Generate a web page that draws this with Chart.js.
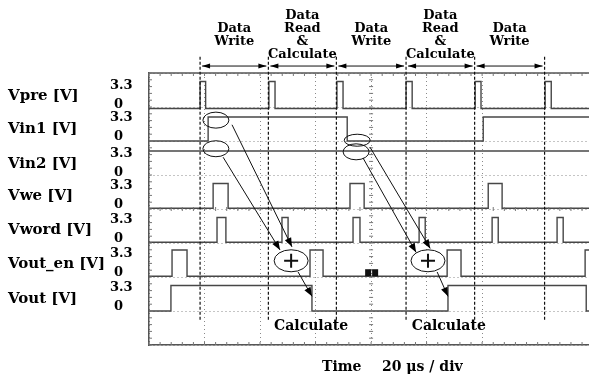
<!DOCTYPE html>
<html>
<head>
<meta charset="utf-8">
<title>Scope timing</title>
<script src="https://cdn.jsdelivr.net/npm/chart.js@4.4.1/dist/chart.umd.min.js"></script>
<style>
  body { margin: 0; background: #fff; }
  #wrap { width: 589px; height: 374px; }
</style>
</head>
<body>
<div id="wrap"><canvas id="scope" width="589" height="374"></canvas></div>
<script>
// time axis: 20 us per division, visible window in us
const timeMax = 158.5;
const voltsPerDiv = 4.4;

const traceNames = ['Vpre [V]', 'Vin1 [V]', 'Vin2 [V]', 'Vwe [V]', 'Vword [V]', 'Vout_en [V]', 'Vout [V]'];

// each trace: times (us) where the level changes, and the level (V) held from then on
const vpreTimes = [0, 18.4, 20.4, 43.2, 45.4, 67.7, 69.9, 92.6, 94.8, 117.5, 119.6, 142.7, 144.9];
const vpreLevels = [0, 3.5, 0, 3.5, 0, 3.5, 0, 3.5, 0, 3.5, 0, 3.5, 0];

const vin1Times = [0, 21.3, 71.4, 120.4];
const vin1Levels = [0, 3.1, 0, 3.1];

const vin2Times = [0];
const vin2Levels = [3.3];

const vweTimes = [0, 23.1, 28.5, 72.4, 77.5, 122.2, 127.2];
const vweLevels = [0, 3.2, 0, 3.2, 0, 3.2, 0];

const vwordTimes = [0, 24.5, 27.7, 47.9, 50.1, 73.5, 76.0, 97.3, 99.5, 123.6, 125.8, 147.0, 149.2];
const vwordLevels = [0, 3.2, 0, 3.2, 0, 3.2, 0, 3.2, 0, 3.2, 0, 3.2, 0];

const voutEnTimes = [0, 8.3, 13.7, 58.0, 62.7, 107.4, 112.4, 157.1];
const voutEnLevels = [0, 3.4, 0, 3.4, 0, 3.4, 0, 3.4];

const voutTimes = [0, 7.9, 58.7, 107.7, 157.5];
const voutLevels = [0, 3.3, 0, 3.3, 0];

// phase boundaries (us) and their labels
const phaseEdges = [18.4, 43.0, 67.5, 92.6, 117.3, 142.5];
const phaseLabels = [
  ['Data', 'Write'],
  ['Data', 'Read', '&', 'Calculate'],
  ['Data', 'Write'],
  ['Data', 'Read', '&', 'Calculate'],
  ['Data', 'Write']
];
const calcTimes = [58.4, 108.0];

// vertical screen offset of each trace's 0 V line (in volts of the stacked axis)
const traceOffsets = [30.6, 26.4, 21.8, 17.7, 13.3, 8.9, 4.4];

const traceTimes = [vpreTimes, vin1Times, vin2Times, vweTimes, vwordTimes, voutEnTimes, voutTimes];
const traceLevels = [vpreLevels, vin1Levels, vin2Levels, vweLevels, vwordLevels, voutEnLevels, voutLevels];

const datasets = traceNames.map((name, i) => {
  const pts = traceTimes[i].map((t, k) => ({ x: t, y: traceLevels[i][k] + traceOffsets[i] }));
  const last = traceLevels[i][traceLevels[i].length - 1];
  pts.push({ x: timeMax, y: last + traceOffsets[i] });
  return {
    label: name,
    data: pts,
    stepped: true,
    borderColor: '#474747',
    borderWidth: 1.4,
    pointRadius: 0,
    fill: false
  };
});

// circled samples, "+" nodes and arrows, in (time, stacked volts)
const sampleRings = [[24.1, 29.1, 13, 8], [24.1, 25.4, 13, 8], [75.0, 26.5, 13, 6], [74.6, 25.0, 13, 8]];
const sumNodes = [[51.2, 10.9], [100.5, 10.9]];
const arrows = [
  [29.9, 28.5, 51.5, 12.7],
  [26.7, 24.3, 47.2, 12.3],
  [79.6, 25.6, 101.3, 12.5],
  [77.1, 24.2, 96.2, 12.0],
  [53.7, 9.45, 58.7, 6.3],
  [103.8, 9.45, 107.7, 6.3]
];

function arrowHead(ctx, x1, y1, x2, y2, len, half) {
  const a = Math.atan2(y2 - y1, x2 - x1);
  ctx.beginPath();
  ctx.moveTo(x2, y2);
  ctx.lineTo(x2 - len * Math.cos(a) + half * Math.sin(a), y2 - len * Math.sin(a) - half * Math.cos(a));
  ctx.lineTo(x2 - len * Math.cos(a) - half * Math.sin(a), y2 - len * Math.sin(a) + half * Math.cos(a));
  ctx.closePath();
  ctx.fill();
}

const scopeOverlay = {
  id: 'scopeOverlay',
  afterDraw(chart) {
    const { ctx, chartArea: a, scales: { x, y } } = chart;
    const px = t => x.getPixelForValue(t);
    const py = v => y.getPixelForValue(v);
    ctx.save();

    // frame top line and graticule minor ticks
    ctx.strokeStyle = '#555';
    ctx.lineWidth = 1.5;
    ctx.beginPath();
    ctx.moveTo(a.left, a.top);
    ctx.lineTo(a.right, a.top);
    ctx.stroke();
    ctx.lineWidth = 1;
    ctx.strokeStyle = '#777';
    ctx.beginPath();
    for (let t = 0; t <= timeMax; t += 4) {
      const xx = px(t);
      ctx.moveTo(xx, a.top); ctx.lineTo(xx, a.top + 3);
      ctx.moveTo(xx, a.bottom); ctx.lineTo(xx, a.bottom - 3);
      ctx.moveTo(xx, py(4 * voltsPerDiv) - 2); ctx.lineTo(xx, py(4 * voltsPerDiv) + 2);
    }
    for (let v = 0; v <= 8 * voltsPerDiv + 0.01; v += voltsPerDiv / 5) {
      const yy = py(v);
      ctx.moveTo(a.left, yy); ctx.lineTo(a.left + 3, yy);
      ctx.moveTo(px(80) - 2, yy); ctx.lineTo(px(80) + 2, yy);
    }
    ctx.stroke();

    // trigger marker on Vout_en
    ctx.fillStyle = '#111';
    const ty = py(traceOffsets[5]);
    ctx.fillRect(px(80.2) - 6.5, ty - 7, 6, 7);
    ctx.fillRect(px(80.2) + 0.5, ty - 7, 6, 7);

    // trace names and level labels
    ctx.fillStyle = '#000';
    ctx.textBaseline = 'middle';
    ctx.textAlign = 'left';
    traceNames.forEach((name, i) => {
      const base = py(traceOffsets[i]);
      ctx.font = 'bold 15px "DejaVu Serif"';
      ctx.fillText(name, 8, base - 12);
      ctx.font = 'bold 13px "DejaVu Serif"';
      ctx.fillText('3.3', 110, base - 23);
      ctx.fillText('0', 114, base - 4);
    });

    // phase boundaries
    ctx.strokeStyle = '#111';
    ctx.lineWidth = 1.2;
    ctx.setLineDash([3, 2]);
    ctx.beginPath();
    phaseEdges.forEach(t => {
      ctx.moveTo(px(t), py(37.3));
      ctx.lineTo(px(t), py(3.2));
    });
    ctx.stroke();
    ctx.setLineDash([]);

    // phase spans and labels
    const arrowY = py(36.1);
    ctx.lineWidth = 1;
    ctx.textAlign = 'center';
    ctx.font = 'bold 13px "DejaVu Serif"';
    for (let i = 0; i < phaseLabels.length; i++) {
      const x1 = px(phaseEdges[i]) + 2, x2 = px(phaseEdges[i + 1]) - 2;
      ctx.beginPath();
      ctx.moveTo(x1, arrowY); ctx.lineTo(x2, arrowY);
      ctx.stroke();
      arrowHead(ctx, x2 - 10, arrowY, x1, arrowY, 8, 2.5);
      arrowHead(ctx, x1 + 10, arrowY, x2, arrowY, 8, 2.5);
      const lines = phaseLabels[i];
      const cx = (x1 + x2) / 2;
      const cy = py(40.1);
      lines.forEach((s, k) => {
        ctx.fillText(s, cx, cy + (k - (lines.length - 1) / 2) * 13);
      });
    }

    // sampled-value rings
    ctx.lineWidth = 1;
    sampleRings.forEach(([t, v, rx, ry]) => {
      ctx.beginPath();
      ctx.ellipse(px(t), py(v), rx, ry, 0, 0, Math.PI * 2);
      ctx.stroke();
    });

    // arrows
    arrows.forEach(([t1, v1, t2, v2]) => {
      const x1 = px(t1), y1 = py(v1), x2 = px(t2), y2 = py(v2);
      ctx.beginPath();
      ctx.moveTo(x1, y1); ctx.lineTo(x2, y2);
      ctx.stroke();
      arrowHead(ctx, x1, y1, x2, y2, 9, 3.5);
    });

    // "+" nodes
    sumNodes.forEach(([t, v]) => {
      const cx = px(t), cy = py(v);
      ctx.beginPath();
      ctx.ellipse(cx, cy, 17, 11, 0, 0, Math.PI * 2);
      ctx.fillStyle = '#fff';
      ctx.fill();
      ctx.lineWidth = 1;
      ctx.stroke();
      ctx.lineWidth = 2;
      ctx.beginPath();
      ctx.moveTo(cx - 7, cy); ctx.lineTo(cx + 7, cy);
      ctx.moveTo(cx, cy - 7); ctx.lineTo(cx, cy + 7);
      ctx.stroke();
    });

    // calculate labels and time base
    ctx.fillStyle = '#000';
    ctx.font = 'bold 14px "DejaVu Serif"';
    ctx.textAlign = 'center';
    calcTimes.forEach(t => ctx.fillText('Calculate', px(t), py(2.46)));
    ctx.textAlign = 'left';
    ctx.fillText('Time', 322, 367);
    ctx.fillText('20 \u03bcs / div', 382, 367);

    ctx.restore();
  }
};

const ctx = document.getElementById('scope').getContext('2d');
new Chart(ctx, {
  type: 'line',
  data: { datasets },
  options: {
    responsive: false,
    animation: false,
    layout: { padding: { left: 149, top: 73, right: 0, bottom: 29 } },
    plugins: { legend: { display: false }, tooltip: { enabled: false } },
    scales: {
      x: {
        type: 'linear',
        min: 0,
        max: timeMax,
        ticks: { display: false, stepSize: 20 },
        grid: { color: '#8a8a8a', lineWidth: 1, drawTicks: false },
        border: { color: '#555', width: 1.5, dash: [1, 3] }
      },
      y: {
        min: 0,
        max: 8 * voltsPerDiv,
        ticks: { display: false, stepSize: voltsPerDiv },
        grid: { color: '#8a8a8a', lineWidth: 1, drawTicks: false },
        border: { color: '#555', width: 1.5, dash: [1, 3] }
      }
    }
  },
  plugins: [scopeOverlay]
});
</script>
</body>
</html>
